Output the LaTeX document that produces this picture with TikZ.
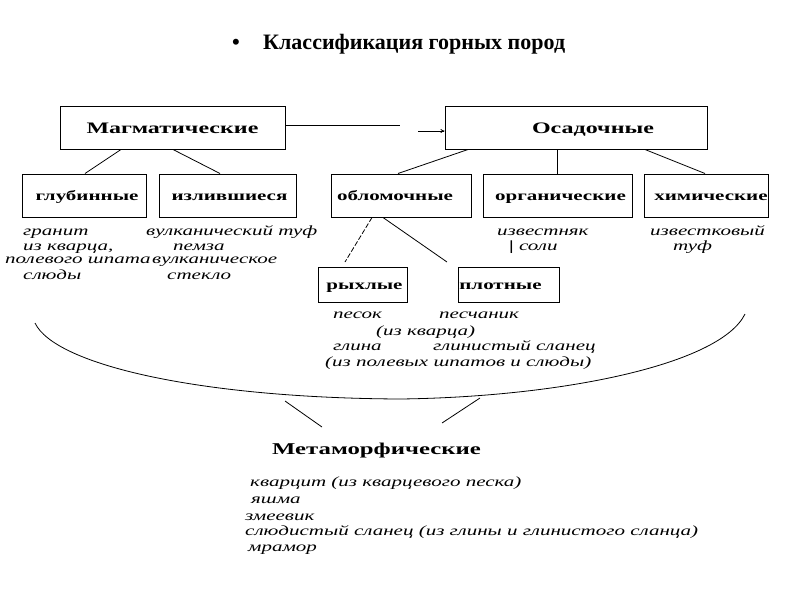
\documentclass[tikz,border=0pt]{standalone}
\usepackage{fontspec}
\setmainfont{Liberation Serif}
\newfontfamily\boxfont{Liberation Serif}[FakeStretch=1.5]
\newfontfamily\listfont{Liberation Serif}[FakeStretch=1.5]
\usetikzlibrary{arrows.meta}
\newcommand\bxtext[2]{\makebox[0pt][c]{\hspace*{#1}#2}}
\begin{document}
\begin{tikzpicture}[x=1pt,y=-1pt,
  conn/.style={line width=0.8pt},
  box/.style={draw, line width=1pt, inner sep=0pt,
    font=\boxfont\bfseries\fontsize{14}{16}\selectfont,
    execute at begin node={\rule[-4pt]{0pt}{17.5pt}}},
  bigbox/.style={box, font=\boxfont\bfseries\fontsize{16}{18}\selectfont,
    execute at begin node={\rule[-4.5pt]{0pt}{20pt}}},
  item/.style={anchor=base west, inner sep=0pt, font=\listfont\itshape\fontsize{14}{16}\selectfont},
  heading/.style={anchor=base west, inner sep=0pt, font=\boxfont\bfseries\fontsize{16.5}{18}\selectfont},
  title/.style={anchor=base west, inner sep=0pt, font=\bfseries\fontsize{22}{24}\selectfont}]
\useasboundingbox (0,0) rectangle (800,600);
\fill[white] (0,0) rectangle (800,600);

% title
\node[title] (bul) at (232,49.5) {•};
\node[title] (ttl) at (263,49.5) {Классификация горных пород};

% main boxes
\node[bigbox, minimum width=225pt, minimum height=43pt] (mag) at (172.5,127.5) {\bxtext{0pt}{Магматические}};
\node[bigbox, minimum width=262pt, minimum height=43pt] (osad) at (576,127.5) {\bxtext{34pt}{Осадочные}};

% sub boxes
\node[box, minimum width=124pt, minimum height=43pt] (glub) at (84,195.5) {\bxtext{6pt}{глубинные}};
\node[box, minimum width=137pt, minimum height=43pt] (izl) at (227.5,195.5) {\bxtext{4pt}{излившиеся}};
\node[box, minimum width=140pt, minimum height=43pt] (obl) at (401,195.5) {\bxtext{-12pt}{обломочные}};
\node[box, minimum width=149pt, minimum height=43pt] (org) at (557.5,195.5) {\bxtext{6pt}{органические}};
\node[box, minimum width=124pt, minimum height=43pt] (him) at (706,195.5) {\bxtext{10pt}{химические}};
\node[box, minimum width=89pt, minimum height=35pt] (ryh) at (362.5,284.5) {\bxtext{4pt}{рыхлые}};
\node[box, minimum width=101pt, minimum height=35pt] (plot) at (508.5,284.5) {\bxtext{-16pt}{плотные}};

% arrow Магматические -> Осадочные
\coordinate (gapL) at (400,125.8);
\coordinate (gapR) at (418,131);
\draw[conn] (gapL -| mag.east) -- (gapL);
\draw[conn, -{To[length=4pt,width=4pt]}] (gapR) -- (gapR -| osad.west);

% connectors
\draw[conn] ([xshift=-51.5pt]mag.south) -- ([xshift=1pt]glub.north);
\draw[conn] ([xshift=0.5pt]mag.south) -- ([xshift=-7.5pt]izl.north);
\draw[conn] ([xshift=-108pt]osad.south) -- ([xshift=-3pt]obl.north);
\draw[conn] (org.north |- osad.south) -- (org.north);
\draw[conn] ([xshift=69pt]osad.south) -- ([xshift=-1pt]him.north);
\coordinate (ryhEnd) at (345,262);
\coordinate (plotEnd) at (447,262);
\draw[conn, dash pattern=on 5pt off 2pt] ([xshift=-29pt]obl.south) -- (ryhEnd);
\draw[conn] ([xshift=-18pt]obl.south) -- (plotEnd);

% lists
\node[item] (i1) at (23,235.5) {гранит};
\node[item] (i2) at (23,250.5) {из кварца,};
\node[item] (i3) at (5,263.5) {полевого шпата};
\node[item] (i4) at (23,279.5) {слюды};
\node[item] (i5) at (146,235.5) {вулканический туф};
\node[item] (i6) at (173,250.5) {пемза};
\node[item] (i7) at (152,263.5) {вулканическое};
\node[item] (i8) at (167,279.5) {стекло};
\node[item] (i9) at (497,235.5) {известняк};
\node[item] (i10) at (509,250.5) {{\upshape\bfseries |} соли};
\node[item] (i11) at (650,235.5) {известковый};
\node[item] (i12) at (673,250.5) {туф};
\node[item] (i13) at (333,318.5) {песок};
\node[item] (i14) at (439,318.5) {песчаник};
\node[item] (i15) at (376,335.5) {(из кварца)};
\node[item] (i16) at (333,350.5) {глина};
\node[item] (i17) at (433,350.5) {глинистый сланец};
\node[item] (i18) at (325,366.5) {(из полевых шпатов и слюды)};

% arc
\draw[conn] (35,323) .. controls (55,365) and (200,398) .. (400,399)
            .. controls (560,397) and (720,365) .. (745,314);
\coordinate (l1a) at (285,401);
\coordinate (l1b) at (322,427);
\coordinate (l2a) at (480,398);
\coordinate (l2b) at (442,423);
\draw[conn] (l1a) -- (l1b);
\draw[conn] (l2a) -- (l2b);

% metamorphic
\node[heading] (meta) at (272,454) {Метаморфические};
\node[item] (m1) at (250,486.5) {кварцит (из кварцевого песка)};
\node[item] (m2) at (251,503.5) {яшма};
\node[item] (m3) at (245,520.5) {змеевик};
\node[item] (m4) at (245,535.5) {слюдистый сланец (из глины и глинистого сланца)};
\node[item] (m5) at (248,551.5) {мрамор};
\end{tikzpicture}
\end{document}
